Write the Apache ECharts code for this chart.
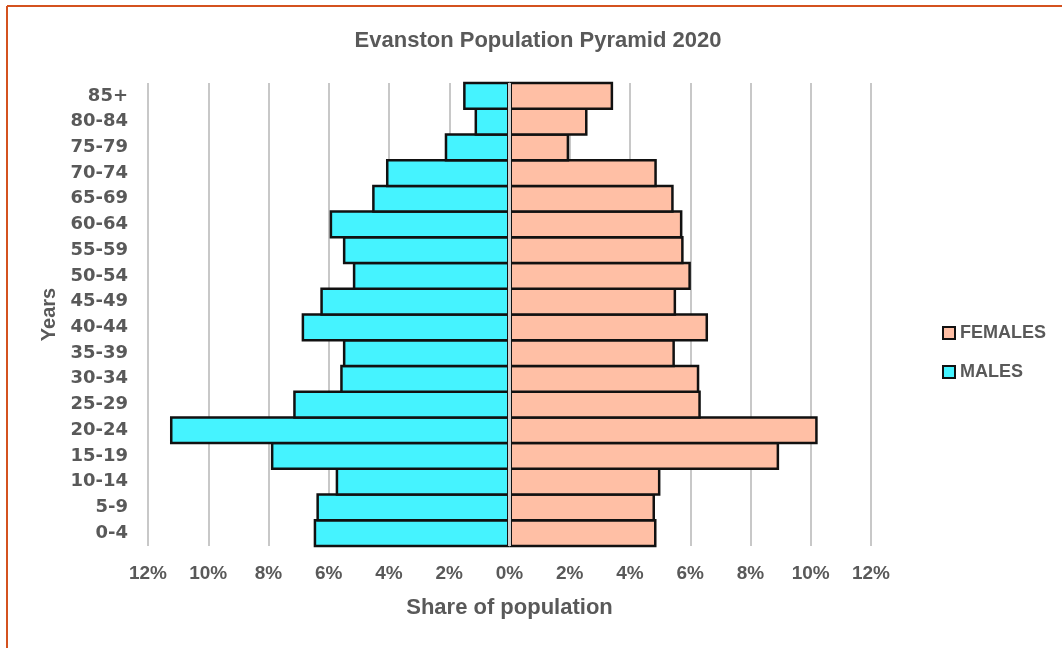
<!DOCTYPE html>
<html>
<head>
<meta charset="utf-8">
<script src="https://cdn.jsdelivr.net/npm/echarts@6/dist/echarts.min.js"></script>
<style>
  html, body { margin: 0; padding: 0; background: #ffffff; }
  #chart { width: 1062px; height: 648px; }
</style>
</head>
<body>
<div id="chart"></div>
<script>
// Age bands, youngest first (category axis draws the first one at the bottom)
const ageGroups = ['0-4', '5-9', '10-14', '15-19', '20-24', '25-29', '30-34', '35-39', '40-44',
                   '45-49', '50-54', '55-59', '60-64', '65-69', '70-74', '75-79', '80-84', '85+'];
// Share of total population, in percent
const malesPct   = [6.50, 6.41, 5.77, 7.92, 11.27, 7.18, 5.62, 5.53, 6.90,
                    6.28, 5.20, 5.53, 5.97, 4.56, 4.10, 2.15, 1.16, 1.54];
const femalesPct = [4.88, 4.83, 5.01, 8.95, 10.23, 6.35, 6.30, 5.49, 6.59,
                    5.53, 6.02, 5.78, 5.74, 5.45, 4.89, 1.98, 2.59, 3.44];
// Axis range (percent), mirrored around zero
const axisMax = 12;
const axisStep = 2;

const gray = '#595959';
const sans = "'Liberation Sans', Arial, sans-serif";
const wideSans = "'DejaVu Sans', 'Liberation Sans', sans-serif";

// Plot area
const W = 1062, H = 648;
const grid = { left: 148, right: 191, top: 83, bottom: 102 };
// ECharts draws bar borders inside the bar, so widen each bar by the border
// width: neighbouring bars then share a single outline, with no seam.
const border = 2.5;
const band = (H - grid.top - grid.bottom) / ageGroups.length;
const barPx = band + border;

const chart = echarts.init(document.getElementById('chart'));
chart.setOption({
  animation: false,
  backgroundColor: '#ffffff',
  title: {
    text: 'Evanston Population Pyramid 2020',
    left: 533, top: 25, textAlign: 'center',
    textStyle: { fontFamily: sans, fontWeight: 'bold', fontSize: 22, color: gray }
  },
  graphic: [
    { type: 'line', shape: { x1: 7, y1: 6, x2: W, y2: 6 }, style: { stroke: '#D4521F', lineWidth: 2 } },
    { type: 'line', shape: { x1: 7, y1: 6, x2: 7, y2: H }, style: { stroke: '#D4521F', lineWidth: 2 } }
  ],
  legend: {
    data: ['FEMALES', 'MALES'],
    orient: 'vertical',
    left: 937, top: 319,
    itemWidth: 12, itemHeight: 12, itemGap: 21,
    icon: 'rect',
    textStyle: { fontFamily: sans, fontWeight: 'bold', fontSize: 18, color: gray }
  },
  grid: grid,
  xAxis: {
    type: 'value',
    min: -axisMax, max: axisMax, interval: axisStep,
    name: 'Share of population',
    nameLocation: 'middle', nameGap: 51,
    nameTextStyle: { fontFamily: sans, fontWeight: 'bold', fontSize: 22, color: gray },
    axisLine: { show: false },
    axisTick: { show: false },
    axisLabel: {
      margin: 18,
      fontFamily: sans, fontWeight: 'bold', fontSize: 19, color: gray,
      formatter: v => Math.abs(v) + '%'
    },
    splitLine: { show: true, lineStyle: { color: '#C8C8C8', width: 2 } }
  },
  yAxis: {
    type: 'category',
    data: ageGroups,
    name: 'Years',
    nameLocation: 'middle', nameGap: 84, nameRotate: 90,
    nameTextStyle: { fontFamily: sans, fontWeight: 'bold', fontSize: 20, color: gray },
    axisLine: { show: false, onZero: false },
    axisTick: { show: false },
    axisLabel: { margin: 20, fontFamily: wideSans, fontWeight: 'bold', fontSize: 18, color: gray },
    splitLine: { show: false }
  },
  series: [
    {
      name: 'FEMALES',
      type: 'bar',
      data: femalesPct,
      barWidth: barPx,
      barGap: '-100%',
      itemStyle: { color: '#FFBFA5', borderColor: '#111111', borderWidth: border }
    },
    {
      name: 'MALES',
      type: 'bar',
      data: malesPct.map(v => -v),
      barWidth: barPx,
      barGap: '-100%',
      itemStyle: { color: '#45F3FF', borderColor: '#111111', borderWidth: border },
      markLine: {
        silent: true,
        symbol: 'none',
        label: { show: false },
        lineStyle: { color: '#D0D0D0', width: 3, type: 'solid' },
        data: [{ xAxis: 0 }]
      }
    }
  ]
});
</script>
</body>
</html>
